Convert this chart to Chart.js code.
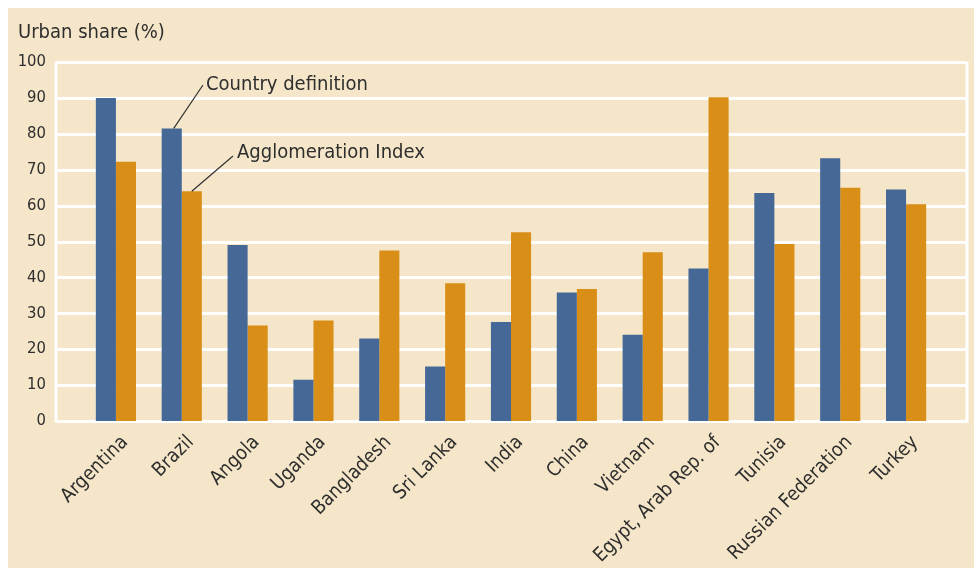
<!DOCTYPE html>
<html>
<head>
<meta charset="utf-8">
<script src="https://cdn.jsdelivr.net/npm/chart.js@4.4.1/dist/chart.umd.min.js"></script>
<style>
    html, body { margin: 0; padding: 0; background: #fff; }
    #wrap { width: 974px; height: 572px; position: relative; }
</style>
</head>
<body>
<div id="wrap"><canvas id="urbanChart"></canvas></div>
<script>
/* Data */
const countries = [
    "Argentina", "Brazil", "Angola", "Uganda", "Bangladesh", "Sri Lanka", "India",
    "China", "Vietnam", "Egypt, Arab Rep. of", "Tunisia", "Russian Federation", "Turkey",
];
const countryDefinition = [90, 81.5, 49, 11.5, 23, 15.2, 27.6, 35.8, 24, 42.5, 63.5, 73.2, 64.5];
const agglomerationIndex = [72.2, 64, 26.6, 28, 47.5, 38.4, 52.6, 36.8, 47, 90.2, 49.3, 65, 60.4];
const yTicks = [0, 10, 20, 30, 40, 50, 60, 70, 80, 90, 100];

const COLORS = {
    panel: "#f5e6c9",
    grid: "#ffffff",
    blue: "#456897",
    orange: "#d98e17",
    text: "#2e2e2e",
    leader: "#333333",
};
const FONT = "'Liberation Sans Narrow', 'DejaVu Sans Condensed', 'Roboto', sans-serif";

/* Panel background, white frame and gridlines (extend past the category band) */
const backdrop = {
    id: "backdrop",
    beforeDraw(chart) {
        const { ctx, scales: { y } } = chart;
        ctx.save();
        ctx.fillStyle = "#ffffff";
        ctx.fillRect(0, 0, chart.width, chart.height);
        ctx.fillStyle = COLORS.panel;
        ctx.fillRect(8, 8, chart.width - 8, chart.height - 12);

        const left = 56, right = 967;
        ctx.strokeStyle = COLORS.grid;
        ctx.lineWidth = 3;
        yTicks.forEach(v => {
            const py = Math.round(y.getPixelForValue(v)) + 0.5;
            ctx.beginPath();
            ctx.moveTo(left, py);
            ctx.lineTo(right, py);
            ctx.stroke();
        });
        ctx.beginPath();
        ctx.moveTo(left, y.getPixelForValue(100));
        ctx.lineTo(left, y.getPixelForValue(0) + 1.5);
        ctx.moveTo(right, y.getPixelForValue(100));
        ctx.lineTo(right, y.getPixelForValue(0) + 1.5);
        ctx.stroke();

        ctx.fillStyle = COLORS.text;
        ctx.font = `20px ${FONT}`;
        ctx.textBaseline = "middle";
        ctx.fillText("Urban share (%)", 18, 33);
        ctx.restore();
    },
};

/* Leader-line labels for the two series, anchored on Brazil's bars */
const callouts = {
    id: "callouts",
    afterDatasetsDraw(chart) {
        const { ctx } = chart;
        const blueBar = chart.getDatasetMeta(0).data[1];
        const orangeBar = chart.getDatasetMeta(1).data[1];
        ctx.save();
        ctx.strokeStyle = COLORS.leader;
        ctx.lineWidth = 1.2;
        ctx.beginPath();
        ctx.moveTo(blueBar.x + 2, blueBar.y);
        ctx.lineTo(203, 85);
        ctx.moveTo(orangeBar.x, orangeBar.y);
        ctx.lineTo(233, 156);
        ctx.stroke();

        ctx.fillStyle = COLORS.text;
        ctx.font = `20px ${FONT}`;
        ctx.textBaseline = "middle";
        ctx.fillText("Country definition", 206, 85);
        ctx.fillText("Agglomeration Index", 237, 153);
        ctx.restore();
    },
};

Chart.defaults.font.family = FONT;
Chart.defaults.color = COLORS.text;

new Chart(document.getElementById("urbanChart"), {
    type: "bar",
    data: {
        labels: countries,
        datasets: [
            {
                label: "Country definition",
                data: countryDefinition,
                backgroundColor: COLORS.blue,
                categoryPercentage: 0.61,
                barPercentage: 1,
            },
            {
                label: "Agglomeration Index",
                data: agglomerationIndex,
                backgroundColor: COLORS.orange,
                categoryPercentage: 0.61,
                barPercentage: 1,
            },
        ],
    },
    options: {
        responsive: true,
        maintainAspectRatio: false,
        animation: false,
        layout: { padding: { top: 62, right: 35, bottom: 0, left: 0 } },
        plugins: {
            legend: { display: false },
            tooltip: { enabled: false },
        },
        scales: {
            x: {
                grid: { display: false },
                border: { display: false },
                ticks: {
                    autoSkip: false,
                    maxRotation: 45,
                    minRotation: 45,
                    padding: 2,
                    labelOffset: 9,
                    font: { size: 19.5 },
                    color: COLORS.text,
                },
                afterFit: (scale) => { scale.height = 151; },
            },
            y: {
                min: 0,
                max: 100,
                grid: { display: false },
                border: { display: false },
                ticks: {
                    stepSize: 10,
                    padding: 29,
                    font: { size: 16.5 },
                    color: COLORS.text,
                },
                afterFit: (scale) => { scale.width = 83; },
            },
        },
    },
    plugins: [backdrop, callouts],
});
</script>
</body>
</html>
